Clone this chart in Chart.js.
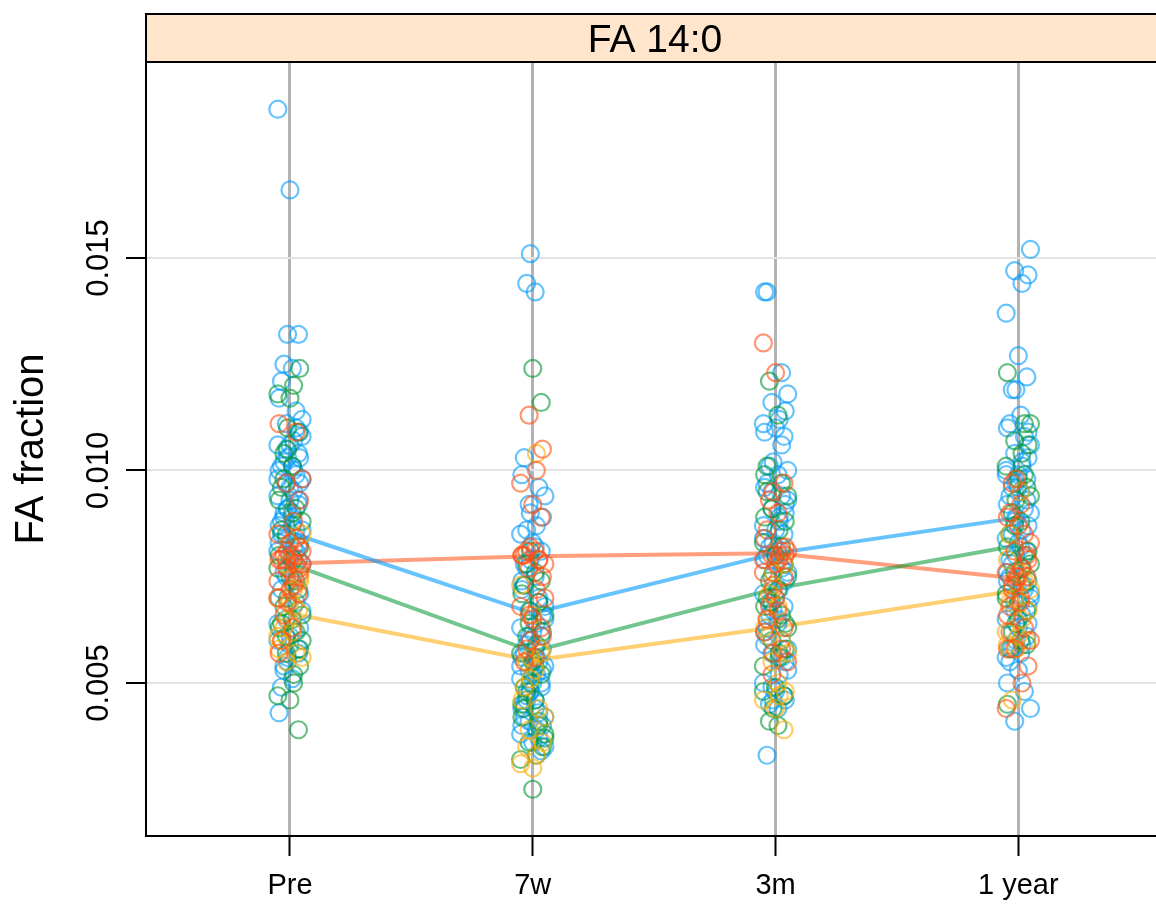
<!DOCTYPE html>
<html>
<head>
<meta charset="utf-8">
<script src="https://cdn.jsdelivr.net/npm/chart.js@4"></script>
<style>
  html, body { margin: 0; padding: 0; background: #fff; overflow: hidden; }
  #wrap { width: 1156px; height: 904px; overflow: hidden; }
  canvas { display: block; }
</style>
</head>
<body>
<div id="wrap"><canvas id="chart" width="1180" height="904"></canvas></div>
<script>
// Panel title and categories
const panelTitle = "FA 14:0";
const timepoints = ["Pre", "7w", "3m", "1 year"];
const yTickValues = [0.005, 0.010, 0.015];

// Individual values per group, one list per timepoint (Pre, 7w, 3m, 1 year)
const blueValues = [
  [0.0185, 0.0166, 0.0132, 0.0132, 0.0125, 0.0124, 0.0121, 0.0117, 0.0114, 0.0112, 0.0111, 0.0109, 0.0107, 0.0106, 0.0106, 0.0104, 0.0103, 0.0102, 0.0101, 0.0101, 0.0100, 0.0099, 0.0098, 0.0097, 0.0097, 0.0095, 0.0094, 0.0093, 0.0092, 0.0091, 0.0090, 0.0089, 0.0088, 0.0087, 0.0086, 0.0086, 0.0084, 0.0083, 0.0082, 0.0081, 0.0080, 0.0079, 0.0077, 0.0076, 0.0074, 0.0072, 0.0070, 0.0069, 0.0067, 0.0065, 0.0063, 0.0062, 0.0060, 0.0059, 0.0057, 0.0055, 0.0053, 0.0051, 0.0049, 0.0043,
   0.0110, 0.0108, 0.0105, 0.0103, 0.0100, 0.0098, 0.0096, 0.0093, 0.0091, 0.0089, 0.0087, 0.0085, 0.0083, 0.0081, 0.0078, 0.0075, 0.0071, 0.0068, 0.0064, 0.0061, 0.0058, 0.0056, 0.0054],
  [0.0151, 0.0144, 0.0142, 0.0103, 0.0099, 0.0096, 0.0094, 0.0092, 0.0089, 0.0087, 0.0085, 0.0083, 0.0081, 0.0079, 0.0077, 0.0075, 0.0073, 0.0072, 0.0070, 0.0068, 0.0067, 0.0066, 0.0064, 0.0063, 0.0062, 0.0061, 0.0060, 0.0059, 0.0058, 0.0057, 0.0056, 0.0055, 0.0054, 0.0053, 0.0053, 0.0052, 0.0051, 0.0050, 0.0049, 0.0048, 0.0047, 0.0046, 0.0045, 0.0044, 0.0043, 0.0042, 0.0041, 0.0040, 0.0039, 0.0038, 0.0036, 0.0034,
   0.0090, 0.0086, 0.0082, 0.0078, 0.0074, 0.0069, 0.0065, 0.0061, 0.0058, 0.0056, 0.0054, 0.0052, 0.0050, 0.0048, 0.0046, 0.0044, 0.0042, 0.0040, 0.0037, 0.0035],
  [0.0142, 0.0142, 0.0123, 0.0118, 0.0116, 0.0114, 0.0112, 0.0111, 0.0110, 0.0108, 0.0102, 0.0101, 0.0099, 0.0097, 0.0096, 0.0094, 0.0093, 0.0091, 0.0090, 0.0088, 0.0087, 0.0086, 0.0085, 0.0083, 0.0082, 0.0081, 0.0080, 0.0079, 0.0077, 0.0076, 0.0075, 0.0074, 0.0072, 0.0071, 0.0070, 0.0068, 0.0067, 0.0066, 0.0064, 0.0063, 0.0062, 0.0060, 0.0058, 0.0057, 0.0055, 0.0052, 0.0050, 0.0048, 0.0047, 0.0046, 0.0045, 0.0044, 0.0033,
   0.0109, 0.0106, 0.0100, 0.0095, 0.0092, 0.0089, 0.0084, 0.0080, 0.0078, 0.0073, 0.0069, 0.0065, 0.0061, 0.0059, 0.0056, 0.0053, 0.0049, 0.0046],
  [0.0152, 0.0147, 0.0146, 0.0144, 0.0137, 0.0127, 0.0122, 0.0119, 0.0119, 0.0113, 0.0111, 0.0110, 0.0108, 0.0106, 0.0104, 0.0103, 0.0101, 0.0100, 0.0099, 0.0098, 0.0097, 0.0096, 0.0095, 0.0094, 0.0092, 0.0091, 0.0090, 0.0088, 0.0087, 0.0086, 0.0084, 0.0083, 0.0081, 0.0080, 0.0078, 0.0077, 0.0075, 0.0074, 0.0072, 0.0071, 0.0069, 0.0068, 0.0066, 0.0065, 0.0063, 0.0061, 0.0060, 0.0058, 0.0057, 0.0055, 0.0050, 0.0048, 0.0044, 0.0041,
   0.0109, 0.0102, 0.0099, 0.0096, 0.0093, 0.0089, 0.0085, 0.0082, 0.0079, 0.0076, 0.0073, 0.0070, 0.0067, 0.0064, 0.0059, 0.0056, 0.0053],
];
const greenValues = [
  [0.0124, 0.0120, 0.0118, 0.0117, 0.0109, 0.0105, 0.0104, 0.0101, 0.0096, 0.0093, 0.0091, 0.0088, 0.0085, 0.0082, 0.0079, 0.0077, 0.0075, 0.0072, 0.0070, 0.0068, 0.0065, 0.0064, 0.0063, 0.0062, 0.0060, 0.0057, 0.0054, 0.0050, 0.0047, 0.0046, 0.0039,
   0.0110, 0.0098, 0.0090, 0.0086, 0.0080, 0.0074, 0.0066, 0.0061, 0.0058, 0.0052],
  [0.0124, 0.0116, 0.0081, 0.0078, 0.0076, 0.0073, 0.0071, 0.0069, 0.0066, 0.0064, 0.0062, 0.0059, 0.0057, 0.0055, 0.0052, 0.0050, 0.0048, 0.0046, 0.0044, 0.0042, 0.0040, 0.0038, 0.0036, 0.0035, 0.0033, 0.0032, 0.0025,
   0.0074, 0.0067, 0.0061, 0.0054, 0.0049, 0.0045, 0.0041, 0.0037],
  [0.0121, 0.0113, 0.0101, 0.0099, 0.0097, 0.0094, 0.0091, 0.0088, 0.0086, 0.0083, 0.0080, 0.0078, 0.0076, 0.0074, 0.0072, 0.0070, 0.0068, 0.0066, 0.0063, 0.0060, 0.0058, 0.0056, 0.0054, 0.0049, 0.0047, 0.0044, 0.0041, 0.0040,
   0.0095, 0.0089, 0.0082, 0.0075, 0.0069, 0.0064, 0.0057, 0.0048],
  [0.0123, 0.0111, 0.0111, 0.0107, 0.0106, 0.0104, 0.0101, 0.0098, 0.0096, 0.0093, 0.0090, 0.0088, 0.0085, 0.0082, 0.0080, 0.0078, 0.0076, 0.0074, 0.0073, 0.0071, 0.0069, 0.0067, 0.0064, 0.0062, 0.0060, 0.0058, 0.0045,
   0.0099, 0.0094, 0.0087, 0.0081, 0.0077, 0.0070, 0.0065, 0.0059],
];
const yellowValues = [
  [0.0085, 0.0078, 0.0075, 0.0072, 0.0070, 0.0069, 0.0067, 0.0065, 0.0063, 0.0062, 0.0060, 0.0058, 0.0057, 0.0056, 0.0055, 0.0074, 0.0068, 0.0061],
  [0.0104, 0.0073, 0.0066, 0.0058, 0.0056, 0.0055, 0.0053, 0.0049, 0.0046, 0.0044, 0.0042, 0.0039, 0.0036, 0.0033, 0.0031, 0.0030, 0.0057, 0.0051, 0.0035],
  [0.0078, 0.0076, 0.0071, 0.0068, 0.0065, 0.0063, 0.0060, 0.0057, 0.0055, 0.0048, 0.0047, 0.0046, 0.0044, 0.0039, 0.0073, 0.0061, 0.0050],
  [0.0095, 0.0085, 0.0079, 0.0074, 0.0072, 0.0070, 0.0067, 0.0065, 0.0062, 0.0061, 0.0060, 0.0058, 0.0046, 0.0076, 0.0069, 0.0059],
];
const redValues = [
  [0.0111, 0.0109, 0.0098, 0.0097, 0.0093, 0.0088, 0.0085, 0.0083, 0.0082, 0.0081, 0.0080, 0.0080, 0.0079, 0.0079, 0.0078, 0.0078, 0.0077, 0.0076, 0.0075, 0.0074, 0.0072, 0.0071, 0.0069, 0.0066, 0.0063, 0.0060, 0.0057,
   0.0084, 0.0081, 0.0079, 0.0077, 0.0073, 0.0070],
  [0.0113, 0.0105, 0.0100, 0.0097, 0.0092, 0.0089, 0.0082, 0.0081, 0.0081, 0.0080, 0.0080, 0.0079, 0.0078, 0.0077, 0.0075, 0.0072, 0.0068, 0.0065, 0.0063, 0.0060, 0.0058, 0.0056, 0.0055,
   0.0080, 0.0079, 0.0070, 0.0066, 0.0061],
  [0.0130, 0.0123, 0.0097, 0.0095, 0.0093, 0.0090, 0.0086, 0.0084, 0.0081, 0.0081, 0.0080, 0.0080, 0.0079, 0.0079, 0.0078, 0.0075, 0.0072, 0.0068, 0.0067, 0.0065, 0.0062, 0.0058, 0.0055, 0.0052,
   0.0082, 0.0080, 0.0076, 0.0070, 0.0063, 0.0057],
  [0.0098, 0.0097, 0.0092, 0.0090, 0.0089, 0.0085, 0.0083, 0.0081, 0.0079, 0.0077, 0.0076, 0.0075, 0.0075, 0.0074, 0.0072, 0.0070, 0.0068, 0.0066, 0.0063, 0.0060, 0.0058, 0.0054, 0.0050, 0.0044,
   0.0087, 0.0080, 0.0075, 0.0073, 0.0069, 0.0062, 0.0058],
];

// Group averages (the connecting lines)
const blueMeans = [0.00854, 0.00664, 0.00805, 0.00889];
const greenMeans = [0.00781, 0.00574, 0.00722, 0.00824];
const yellowMeans = [0.00664, 0.00553, 0.00631, 0.00718];
const redMeans = [0.00781, 0.00798, 0.00805, 0.00746];

// Horizontal jitter pattern (in category units), cycled over points
const jitter = [-0.05, 0.025, -0.01, 0.04, -0.035, 0.0, 0.05, -0.025, 0.015, -0.045, 0.035, -0.015, 0.01];

const FONT = "'Liberation Sans', Arial, sans-serif";

function toPoints(values, phase) {
  const pts = [];
  values.forEach((list, t) => {
    list.forEach((v, i) => {
      const j = jitter[(i * 5 + phase + t * 2) % jitter.length];
      pts.push({ x: t + 1 + j, y: v });
    });
  });
  return pts;
}

function toMeanLine(means) {
  return means.map((m, t) => ({ x: t + 1, y: m }));
}

const groups = [
  { name: "blue", values: blueValues, means: blueMeans, point: "rgba(0,155,250,0.6)", line: "rgba(0,155,250,0.6)" },
  { name: "green", values: greenValues, means: greenMeans, point: "rgba(0,150,50,0.6)", line: "rgba(0,150,50,0.55)" },
  { name: "yellow", values: yellowValues, means: yellowMeans, point: "rgba(255,170,0,0.6)", line: "rgba(255,170,0,0.55)" },
  { name: "red", values: redValues, means: redMeans, point: "rgba(255,80,20,0.6)", line: "rgba(255,80,20,0.55)" },
];

const datasets = [];
groups.forEach((g, gi) => {
  datasets.push({
    label: g.name,
    data: toPoints(g.values, gi * 3),
    pointStyle: "circle",
    pointRadius: 8.5,
    pointBorderWidth: 2.2,
    pointBorderColor: g.point,
    pointBackgroundColor: "rgba(0,0,0,0)",
    showLine: false,
    order: 10 - gi,
  });
});
groups.forEach((g, gi) => {
  datasets.push({
    label: g.name + " mean",
    data: toMeanLine(g.means),
    showLine: true,
    borderColor: g.line,
    borderWidth: 4,
    pointRadius: 0,
    fill: false,
    order: 20 + gi,
  });
});

// Strip with panel title, and rotated y tick labels
const stripPlugin = {
  id: "strip",
  afterDraw(chart) {
    const { ctx, chartArea, scales } = chart;
    ctx.save();
    ctx.fillStyle = "#FFE5CC";
    ctx.fillRect(chartArea.left, 14, chartArea.right - chartArea.left, chartArea.top - 14);
    ctx.strokeStyle = "#000";
    ctx.lineWidth = 2;
    ctx.strokeRect(chartArea.left, 14, chartArea.right - chartArea.left, chartArea.top - 14);
    ctx.fillStyle = "#000";
    ctx.font = "39px " + FONT;
    ctx.textAlign = "center";
    ctx.textBaseline = "alphabetic";
    ctx.fillText(panelTitle, (chartArea.left + chartArea.right) / 2, 52);

    const y = scales.y;
    ctx.font = "31px " + FONT;
    y.ticks.forEach((t) => {
      const py = y.getPixelForValue(t.value);
      ctx.save();
      ctx.translate(108, py);
      ctx.rotate(-Math.PI / 2);
      ctx.textAlign = "center";
      ctx.textBaseline = "alphabetic";
      ctx.fillText(t.value.toFixed(3), 0, 0);
      ctx.restore();
    });
    ctx.restore();
  },
};

new Chart(document.getElementById("chart"), {
  type: "scatter",
  data: { datasets },
  options: {
    responsive: false,
    animation: false,
    devicePixelRatio: 1,
    layout: { padding: { top: 62, right: 16, left: 0, bottom: 0 } },
    plugins: { legend: { display: false }, tooltip: { enabled: false } },
    scales: {
      x: {
        type: "linear",
        min: 0.407,
        max: 4.6,
        afterBuildTicks: (scale) => {
          scale.ticks = timepoints.map((_, i) => ({ value: i + 1 }));
        },
        afterFit: (scale) => {
          scale.height = 68;
        },
        ticks: {
          autoSkip: false,
          maxRotation: 0,
          padding: 13,
          color: "#000",
          font: { family: FONT, size: 29 },
          callback: (v) => timepoints[Math.round(v) - 1],
        },
        grid: {
          color: "#b3b3b3",
          lineWidth: 3,
          tickColor: "#000",
          tickLength: 20,
          tickWidth: 2,
        },
        border: { color: "#000", width: 2 },
      },
      y: {
        type: "linear",
        min: 0.0014,
        max: 0.01961,
        afterBuildTicks: (scale) => {
          scale.ticks = yTickValues.map((v) => ({ value: v }));
        },
        afterFit: (scale) => {
          scale.width = 146;
        },
        ticks: { display: false },
        title: {
          display: true,
          text: "FA fraction",
          color: "#000",
          font: { family: FONT, size: 40 },
          padding: { top: 8, bottom: 0 },
        },
        grid: {
          color: "#e3e3e3",
          lineWidth: 2,
          tickColor: "#000",
          tickLength: 20,
          tickWidth: 2,
        },
        border: { color: "#000", width: 2 },
      },
    },
  },
  plugins: [stripPlugin],
});
</script>
</body>
</html>
